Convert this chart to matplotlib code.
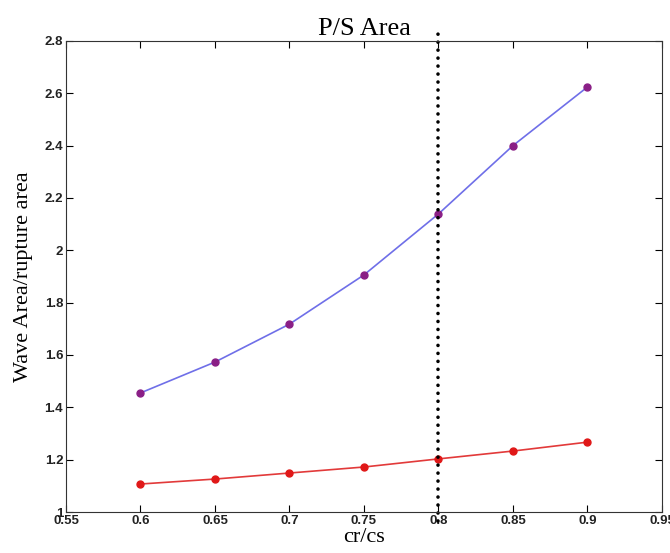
import numpy as np
import matplotlib.pyplot as plt

# data
cr_cs = [0.6, 0.65, 0.7, 0.75, 0.8, 0.85, 0.9]
p_area = [1.455, 1.573, 1.718, 1.906, 2.139, 2.400, 2.624]
s_area = [1.107, 1.126, 1.149, 1.172, 1.203, 1.233, 1.267]
xticks = [0.55, 0.6, 0.65, 0.7, 0.75, 0.8, 0.85, 0.9, 0.95]
yticks = [1, 1.2, 1.4, 1.6, 1.8, 2, 2.2, 2.4, 2.6, 2.8]
cut = 0.8

fig = plt.figure(figsize=(6.7, 5.53), dpi=100)
ax = fig.add_axes([0.0985, 0.0741, 0.8895, 0.8519])

ax.plot(cr_cs, p_area, color='#6f6fe8', lw=1.2, marker='o', ms=5,
        mfc='#8a1f86', mec='#8a1f86')
ax.plot(cr_cs, s_area, color='#e23a3a', lw=1.2, marker='o', ms=5,
        mfc='#e01818', mec='#e01818')
ax.axvline(cut, ymin=-0.02, ymax=1.015, color='black', lw=2.6,
           linestyle=(0, (0.01, 2.2)), dash_capstyle='round', clip_on=False)

ax.set_xlim(0.55, 0.95)
ax.set_ylim(1, 2.8)
ax.set_xticks(xticks)
ax.set_xticklabels([f'{v:g}' for v in xticks])
ax.set_yticks(yticks)
ax.set_yticklabels([f'{v:g}' for v in yticks])
ax.tick_params(direction='in', top=True, right=True, length=5, width=0.8,
               labelsize=9.5, pad=2)
for lab in ax.get_xticklabels() + ax.get_yticklabels():
    lab.set_family('Liberation Sans')
    lab.set_weight('bold')
    lab.set_color('#222222')
for sp in ax.spines.values():
    sp.set_linewidth(0.8)
    sp.set_color('#333333')

ax.set_title('P/S Area', family='Liberation Serif', fontsize=19, pad=4)
ax.set_xlabel('cr/cs', family='Liberation Serif', fontsize=16, labelpad=1)
ax.set_ylabel('Wave Area/rupture area', family='Liberation Serif', fontsize=16,
              labelpad=8)

fig.savefig('out.png', dpi=100)
